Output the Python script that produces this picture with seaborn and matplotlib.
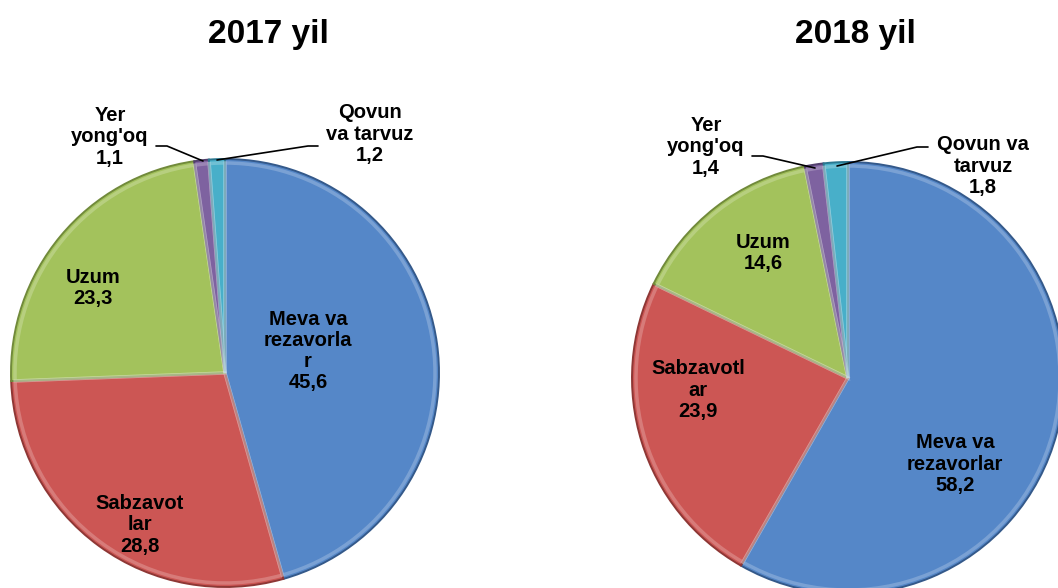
import matplotlib
matplotlib.use("Agg")
import matplotlib.pyplot as plt
import seaborn as sns

# Data (shares, %)
categories = ["Meva va rezavorlar", "Sabzavotlar", "Uzum", "Yer yong'oq", "Qovun va tarvuz"]
values_2017 = [45.6, 28.8, 23.3, 1.1, 1.2]
values_2018 = [58.2, 23.9, 14.6, 1.4, 1.8]
labels_2017 = ["Meva va\nrezavorla\nr", "Sabzavot\nlar", "Uzum", "Yer\nyong'oq", "Qovun\nva tarvuz"]
labels_2018 = ["Meva va\nrezavorlar", "Sabzavotl\nar", "Uzum", "Yer\nyong'oq", "Qovun va\ntarvuz"]
years = ["2017 yil", "2018 yil"]

sns.set_theme(style="white")
plt.rcParams['font.family'] = ['Liberation Sans', 'DejaVu Sans']
plt.rcParams['text.color'] = 'black'

colors = ["#5587C8", "#CC5654", "#A3C25C", "#7E62A0", "#48AFC9"]
edges = ["#34598A", "#8E3735", "#718A3B", "#53406E", "#2B7890"]

W, H = 1058, 588
fig = plt.figure(figsize=(W / 100, H / 100), dpi=100)
ax = fig.add_axes([0, 0, 1, 1])


def fmt(v):
    return f"{v:.1f}".replace(".", ",")


# layout in pixel coords (x, y from top)
pies = [
    dict(values=values_2017, labels=labels_2017, center=(225, 373), r=214, title=(268, 35),
         pos=[(308, 351), (140, 525), (93, 288), (110, 137), (370, 134)],
         leaders=[None, None, None,
                  [(156, 146), (167, 146), (203, 161)],
                  [(318, 146), (308, 146), (217, 160)]]),
    dict(values=values_2018, labels=labels_2018, center=(848, 378), r=216, title=(855, 35),
         pos=[(955, 464), (698, 390), (763, 253), (706, 147), (983, 166)],
         leaders=[None, None, None,
                  [(752, 156), (763, 156), (815, 168)],
                  [(928, 147), (917, 147), (837, 166)]]),
]

for p, year in zip(pies, years):
    cx, cy = p['center']
    wedges, _ = ax.pie(p['values'], colors=colors, startangle=90, counterclock=False,
                       center=(cx, H - cy), radius=p['r'],
                       wedgeprops=dict(linewidth=1.4))
    for w, ec in zip(wedges, edges):
        w.set_edgecolor(ec)
    # soft bevel highlight
    ax.pie(p['values'], colors=["none"] * 5, startangle=90, counterclock=False,
           center=(cx, H - cy), radius=p['r'] - 4,
           wedgeprops=dict(linewidth=2.5, edgecolor=(1, 1, 1, 0.22), fill=False))
    for lab, v, (x, y) in zip(p['labels'], p['values'], p['pos']):
        ax.text(x, H - y, f"{lab}\n{fmt(v)}", ha='center', va='center',
                fontsize=14.5, fontweight='bold', color='black', linespacing=1.15)
    for ld in p['leaders']:
        if ld:
            ax.plot([q[0] for q in ld], [H - q[1] for q in ld], color='black', lw=1.2)
    tx, ty = p['title']
    ax.text(tx, H - ty, year, ha='center', va='center', fontsize=24,
            fontweight='bold', color='black')

ax.set_xlim(0, W)
ax.set_ylim(0, H)
ax.set_aspect('equal')
ax.axis('off')

fig.savefig('out.png', dpi=100, facecolor='white')
